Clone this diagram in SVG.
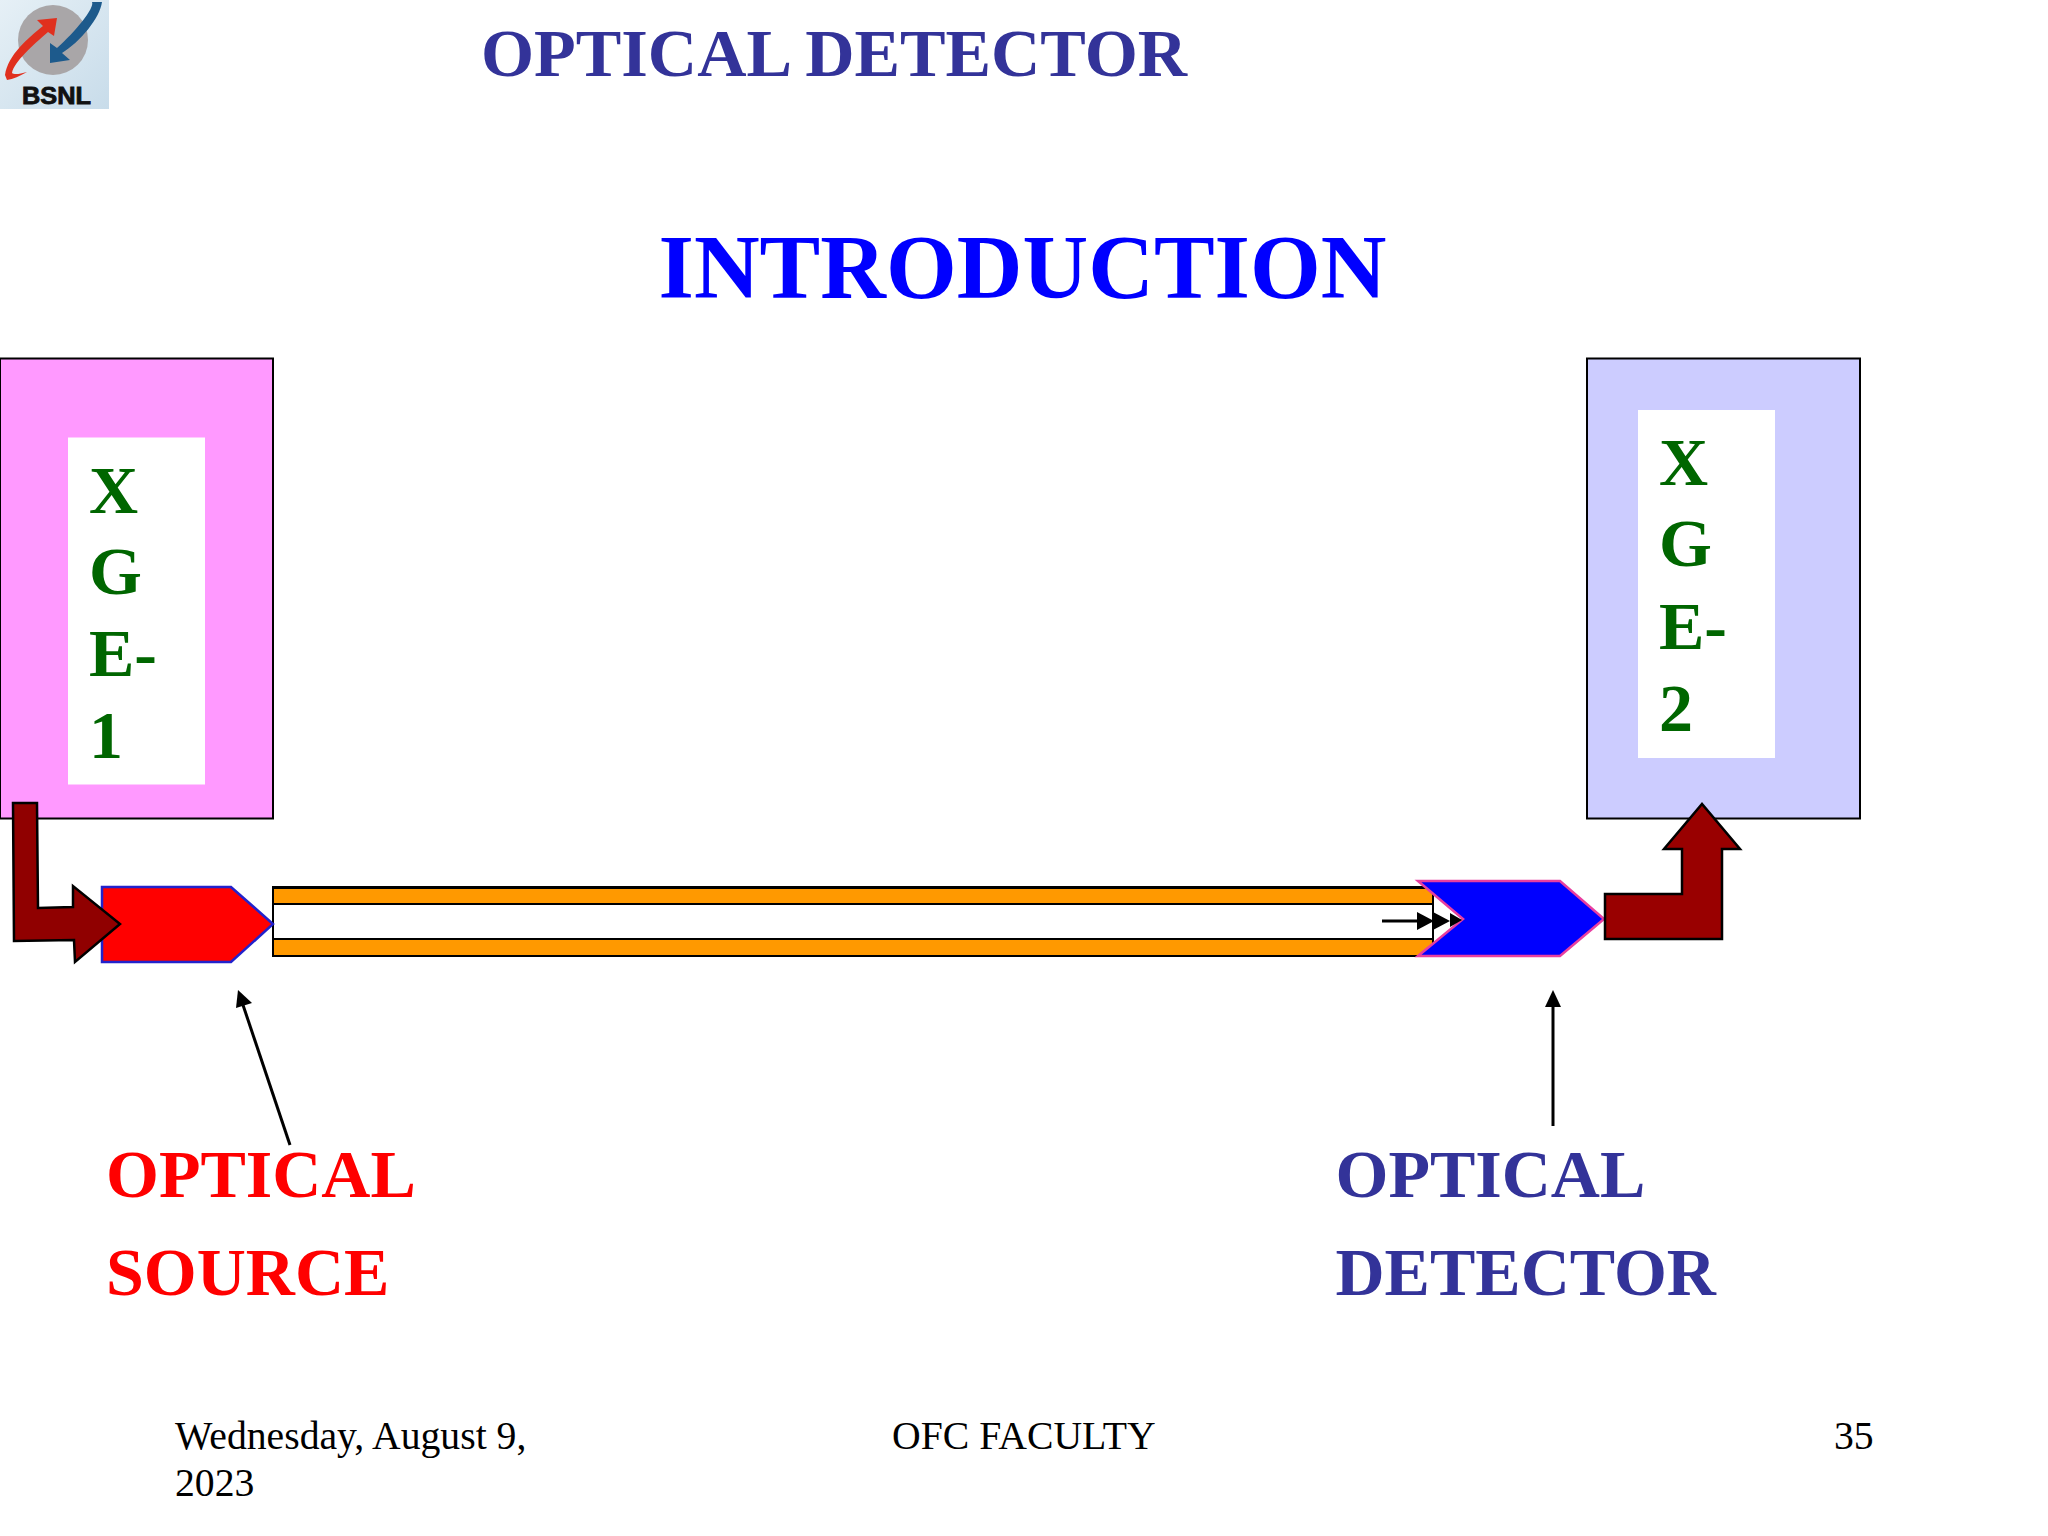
<svg xmlns="http://www.w3.org/2000/svg" width="2048" height="1536" viewBox="0 0 2048 1536">
<style>
text{font-family:"Liberation Serif","Times New Roman",serif}
.b{font-weight:700}
.t{fill:#333399}
.g{fill:#006600;font-size:68px;font-weight:700}
.l{font-size:68px;font-weight:700}
.f{font-size:39.7px;fill:#000}
.dr{stroke:#000;stroke-width:2.5;stroke-linejoin:miter}
.o{fill:#ff9900;stroke:#000;stroke-width:2}
.c{stroke:#000;stroke-width:3;fill:none}
</style>
<defs>
<linearGradient id="lg" x1="0" y1="0" x2="1" y2="1"><stop offset="0" stop-color="#e6f0f6"/><stop offset="1" stop-color="#c8dcea"/></linearGradient>
</defs>
<rect width="2048" height="1536" fill="#fff"/>
<g id="logo">
<rect x="0" y="0" width="109" height="109" fill="url(#lg)"/>
<circle cx="53" cy="40" r="35" fill="#a9a6a8"/>
<path d="M57 18L37 20L43 26C28 38 8 55 5 75L7 80C13 79 20 76 27 72C20 74 14 75 12 73C14 62 33 45 48 32L54 36Z" fill="#e0301e"/>
<path d="M50 43L50 63L70 60L62 53C80 42 100 18 102 2L92 2C95 8 75 32 57 48Z" fill="#1d5a8c"/>
<text x="22" y="104" font-size="23" class="b" style="font-family:'Liberation Sans',Arial,sans-serif" fill="#111" stroke="#111" stroke-width="0.8" textLength="69" lengthAdjust="spacingAndGlyphs">BSNL</text>
</g>
<g id="title"><text x="481" y="75.5" font-size="68" class="b t" textLength="706" lengthAdjust="spacingAndGlyphs">OPTICAL DETECTOR</text></g>
<g id="subtitle"><text x="658.5" y="298" font-size="90" class="b" fill="#0000ff" textLength="728" lengthAdjust="spacingAndGlyphs">INTRODUCTION</text></g>
<g id="xge1">
<rect x="0" y="358.5" width="273" height="460" fill="#ff99ff" stroke="#000" stroke-width="2"/>
<rect x="68" y="437.5" width="137" height="347" fill="#fff"/>
<text class="g" x="89" y="513">X</text><text class="g" x="89" y="594">G</text><text class="g" x="89" y="676">E-</text><text class="g" x="89" y="758">1</text>
</g>
<g id="xge2">
<rect x="1587" y="358.5" width="273" height="460" fill="#ccccff" stroke="#000" stroke-width="2"/>
<rect x="1638" y="410" width="137" height="348" fill="#fff"/>
<text class="g" x="1659" y="485">X</text><text class="g" x="1659" y="566">G</text><text class="g" x="1659" y="649">E-</text><text class="g" x="1659" y="731">2</text>
</g>
<g id="fiber">
<rect x="273" y="887" width="1160" height="69" fill="#fff" stroke="#000" stroke-width="2"/>
<rect class="o" x="273" y="888" width="1160" height="16"/>
<rect class="o" x="273" y="939" width="1160" height="17"/>
</g>
<g id="source"><polygon points="102,887 231,887 273,924 231,962 102,962" fill="#ff0000" stroke="#2222cc" stroke-width="2.5"/></g>
<g id="detector"><polygon points="1418,881 1560,881 1604,919 1560,956 1418,956 1463,919" fill="#0000ff" stroke="#e83ea0" stroke-width="2.5"/></g>
<g id="connectors">
<polygon class="dr" fill="#900000" points="13,803 37,803 38,908 73,907 73,886 120,924 75,962 74,940 14,941"/>
<polygon class="dr" fill="#990000" points="1605,894 1682,894 1682,849 1664,849 1702,804 1740,849 1722,849 1722,939 1605,939"/>
<line class="c" x1="1382" y1="921" x2="1420" y2="921"/>
<polygon points="1417,912 1434,921 1417,930" fill="#000"/>
<polygon points="1433,912 1450,921 1433,930" fill="#000"/>
<polygon points="1450,913 1462,920 1450,927" fill="#000"/>
<line class="c" x1="290" y1="1145" x2="243" y2="1005"/>
<polygon points="238,990 252,1003 236,1008" fill="#000"/>
<line class="c" x1="1553" y1="1126" x2="1553" y2="1005"/>
<polygon points="1553,990 1561,1007 1545,1007" fill="#000"/>
</g>
<g id="label-source"><text class="l" x="106" y="1197" fill="#ff0000">OPTICAL</text><text class="l" x="106" y="1295" fill="#ff0000">SOURCE</text></g>
<g id="label-detector"><text class="l t" x="1335.5" y="1197">OPTICAL</text><text class="l t" x="1335.5" y="1295">DETECTOR</text></g>
<g id="footer">
<text class="f" x="175" y="1449">Wednesday, August 9,</text><text class="f" x="175" y="1496">2023</text>
<text class="f" x="892" y="1449">OFC FACULTY</text>
<text class="f" x="1834" y="1449">35</text>
</g>
</svg>
